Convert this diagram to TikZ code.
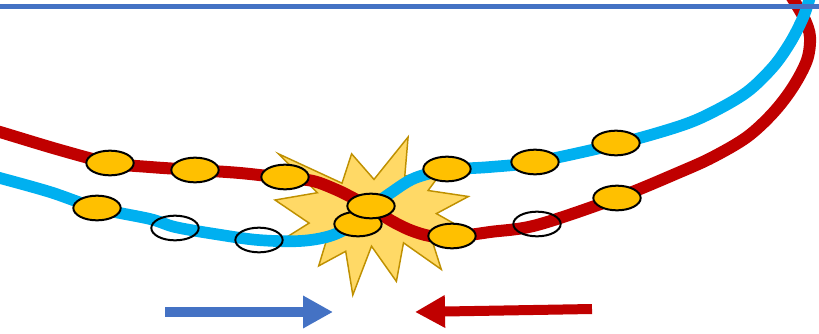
\documentclass[tikz,border=0pt]{standalone}
\usetikzlibrary{shapes.geometric,arrows.meta}

\begin{document}
\begin{tikzpicture}[x=0.75pt,y=0.75pt,yscale=-1,xscale=1,
  bead/.style={ellipse, draw, line width=1.5, inner sep=0pt, minimum width=35.5pt, minimum height=18.5pt, fill={rgb, 255:red, 255; green, 192; blue, 0 }},
  hollow/.style={ellipse, draw, line width=1.5, inner sep=0pt, minimum width=35.5pt, minimum height=18.5pt},
  redtrack/.style={line width=9, color={rgb, 255:red, 192; green, 0; blue, 0 }},
  cyantrack/.style={line width=8.75, color={rgb, 255:red, 0; green, 176; blue, 240 }},
  burst/.style={line width=1.1, draw={rgb, 255:red, 191; green, 144; blue, 0 }, fill={rgb, 255:red, 255; green, 217; blue, 102 }, line join=miter},
  fatarrow/.style={line width=7.5, -{Triangle[length=22.5pt, width=23pt]}}
]
\useasboundingbox (0,0) rectangle (819,333);

%Shape: Explosion
\draw [burst] (374,179.4) -- (408.1,137) -- (404.8,176) -- (443.5,169.6) -- (428.1,190.5) -- (468.4,196.5) -- (436.4,213.6) -- (473,234.2) -- (429.3,231.7) -- (441.3,269.4) -- (403.5,242.8) -- (396.4,281.4) -- (371.5,246.2) -- (352.8,295) -- (345.7,251.3) -- (318.7,265.9) -- (326.9,238.9) -- (276.2,243.7) -- (309.1,223.1) -- (275,200) -- (317.4,192.7) -- (278.4,153.8) -- (342,183.2) -- (351.6,153.8) -- cycle ;

%Curve Lines
\draw [redtrack] plot [smooth, tension=0.55] coordinates {(-8,130) (0,132) (60,150) (110,163) (150,167) (195,170) (240,173) (285,178) (313,181) (337,190) (355,199) (372,208) (390,220) (410,230) (430,236) (452,237) (490,232) (537,225) (617,198) (680,172) (713,157) (747,137) (773,113) (793,87) (807,60) (810,37) (805,20) (796,4) (791,-4)} ;
%Curve Lines
\draw [cyantrack] plot [smooth, tension=0.55] coordinates {(-8,176) (0,178) (50,192) (97,208) (150,219) (175,227) (215,234) (258,240) (300,241) (330,236) (352,225) (372,207) (392,192) (415,178) (447,170) (490,167) (535,162) (617,144) (680,126) (713,112) (747,92) (773,67) (790,43) (802,20) (808,4) (810,-4)} ;

%Straight Lines
\draw [line width=3.75, color={rgb, 255:red, 68; green, 114; blue, 196 }] (0,6.5) -- (819,6.5) ;

%Shape: Ellipse
\node [bead] (r1) at (110,163) {};
\node [bead] (r2) at (195,170) {};
\node [bead] (r3) at (285,177) {};
\node [bead] (r4) at (452,236) {};
\node [hollow] (r5) at (537,224) {};
\node [bead] (r6) at (617,198) {};
%Shape: Ellipse
\node [bead] (c1) at (97,208) {};
\node [hollow] (c2) at (175,228) {};
\node [hollow] (c3) at (259,240) {};
\node [bead] (c4) at (447,169) {};
\node [bead] (c5) at (535,162) {};
\node [bead] (c6) at (616,143) {};
%Shape: Ellipse
\node [bead] (m1) at (358,224) {};
\node [bead] (m2) at (371,206) {};

%Arrows
\coordinate (bluetail) at (165,312);
\coordinate (bluetip) at (333,312);
\coordinate (redtail) at (592,309);
\coordinate (redtip) at (415,312);
\draw [fatarrow, color={rgb, 255:red, 68; green, 114; blue, 196 }] (bluetail) -- (bluetip) ;
\draw [fatarrow, color={rgb, 255:red, 192; green, 0; blue, 0 }] (redtail) -- (redtip) ;

\end{tikzpicture}
\end{document}
